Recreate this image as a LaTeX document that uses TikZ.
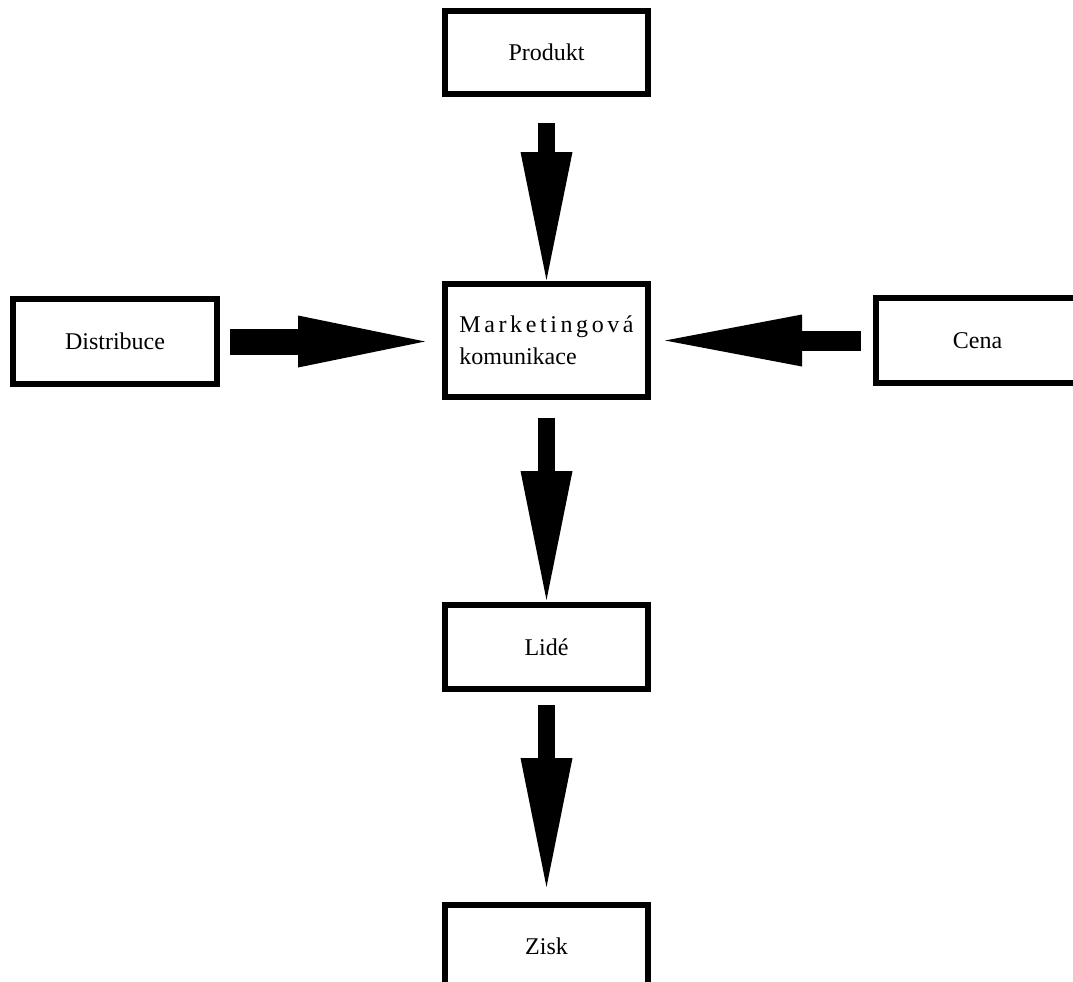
\documentclass[tikz,border=0pt]{standalone}
\usepackage{fontspec}
\setmainfont{Liberation Serif}
\usetikzlibrary{arrows.meta}
\tikzset{
  box/.style={draw=black, line width=6pt, fill=white, inner sep=0pt,
    minimum width=203pt, font=\fontsize{24}{32}\selectfont},
  fat/.style={line width=#1, draw=black,
    -{Triangle[length=128pt, width=52pt, line width=0pt]}},
}
\begin{document}
\begin{tikzpicture}[x=1pt,y=-1pt]
\path[use as bounding box, clip] (0,0) rectangle (1073,982);
\fill[white] (0,0) rectangle (1073,982);
\node[box, minimum height=83pt] (prod) at (546.5,52.5) {Produkt};
\node[box, minimum height=113pt, align=left] (mk) at (546.5,340.5)
  {{\addfontfeature{LetterSpace=15}Marketingová}\\komunikace};
\node[box, minimum width=204pt, minimum height=85pt] (dist) at (115,341.5) {Distribuce};
\node[box, minimum height=85pt] (cena) at (977.5,340.5) {Cena};
\node[box, minimum height=84pt] (lide) at (546.5,647) {Lidé};
\node[box, minimum height=83pt] (zisk) at (546.5,946.5) {Zisk};
\draw[fat=17pt, shorten <=26pt, shorten >=1pt] (prod.south) -- (mk.north);
\draw[fat=26pt, -{Triangle[length=127pt, width=52pt, line width=0pt]},
  shorten <=10pt, shorten >=17pt] (dist.east) -- (dist.east -| mk.west);
\draw[fat=20pt, -{Triangle[length=137pt, width=52pt, line width=0pt]},
  shorten <=12pt, shorten >=14pt] (cena.west) -- (cena.west -| mk.east);
\draw[fat=17pt, -{Triangle[length=129pt, width=52pt, line width=0pt]},
  shorten <=18pt, shorten >=2pt] (mk.south) -- (lide.north);
\draw[fat=17pt, -{Triangle[length=129pt, width=52pt, line width=0pt]},
  shorten <=13pt, shorten >=15pt] (lide.south) -- (zisk.north);
\end{tikzpicture}
\end{document}
